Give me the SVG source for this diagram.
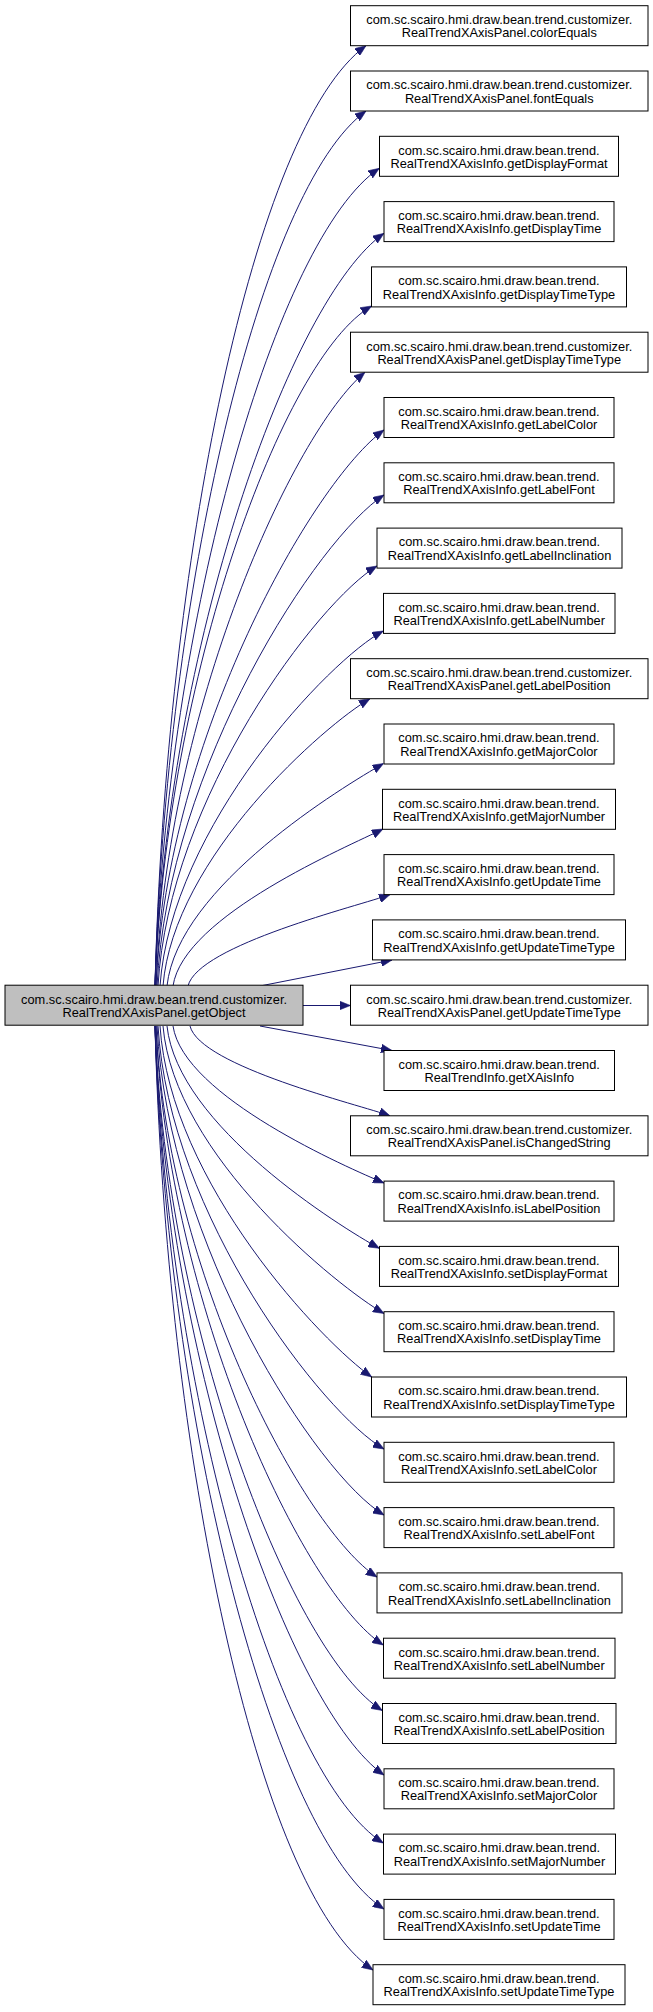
<svg xmlns="http://www.w3.org/2000/svg" width="653" height="2012" viewBox="0 0 653 2012">
<style>
.n rect{fill:#ffffff;stroke:#000000;stroke-width:1}
.src rect{fill:#bfbfbf;stroke:#000000;stroke-width:1}
text{font-family:"Liberation Sans",Arial,sans-serif;font-size:12.8px;fill:#000000;text-anchor:middle}
.e path{fill:none;stroke:#191970;stroke-width:1;marker-end:url(#arr)}
</style>
<defs>
<marker id="arr" markerUnits="userSpaceOnUse" viewBox="0 0 10 8" refX="10" refY="4" markerWidth="11" markerHeight="8.8" orient="auto">
<path d="M0,0 L10,4 L0,8 z" fill="#191970" stroke="#191970" stroke-width="0.5"/>
</marker>
</defs>
<rect width="653" height="2012" fill="#ffffff"/>
<g id="edges" class="e">
<path d="M155,986 C165.6,562.9 253,127.8 366,45.7"/>
<path d="M155,986 C165.6,592.3 260.4,187.7 366,111"/>
<path d="M155,986 C166.2,618 277.3,237.1 379.3,168.3"/>
<path d="M155,986 C166.5,647.3 290.6,298.8 384,233.3"/>
<path d="M155,986 C165.8,680 282.1,357.8 371.7,306"/>
<path d="M156,986 C166.5,709.8 293,432.6 365,372.2"/>
<path d="M156,986 C167.4,735.8 313.5,481.2 384,430"/>
<path d="M157,986 C168.4,765 318.2,537.7 384,495"/>
<path d="M158,986 C169,797 318.1,601.4 377,566"/>
<path d="M160,986 C171.2,826.3 329.6,659.5 383.3,631"/>
<path d="M163,986 C173.4,856.7 325.6,724.4 370,698.7"/>
<path d="M167,986 C177.8,886 344.5,786 383.5,763.5"/>
<path d="M173,986 C183.5,915.4 349,846.2 383,829"/>
<path d="M188,986 C198.1,944.9 360,905.6 390,894.6"/>
<path d="M260,986 L392,960"/>
<path d="M303,1005.5 L350.5,1005.5"/>
<path d="M260,1026 L392,1050.5"/>
<path d="M190,1026 C200,1066.4 360.1,1104.9 390,1115.8"/>
<path d="M173,1026 C183.6,1096.7 348.9,1168.1 384,1183"/>
<path d="M167,1026 C177.6,1126 340.3,1226.7 379.3,1248.3"/>
<path d="M163,1026 C174,1155.4 338.4,1287.2 384,1313.5"/>
<path d="M160,1026 C170.6,1184 323.1,1342.9 371.7,1377"/>
<path d="M158,1026 C169.3,1216.4 323.8,1414.3 384,1449"/>
<path d="M157,1026 C168.4,1246 317,1474.7 384,1515"/>
<path d="M156,1026 C167,1274 304.8,1530.1 377,1577"/>
<path d="M156,1026 C167.4,1304.6 303.1,1592.9 383.3,1645"/>
<path d="M155,1026 C166.4,1334 293.6,1655.1 382.3,1710.5"/>
<path d="M155,1026 C166.5,1363 291,1709.8 384,1775"/>
<path d="M155,1026 C166.4,1393.7 279,1777.8 383.3,1843"/>
<path d="M155,1026 C166.5,1423.4 273,1836.9 384,1909"/>
<path d="M155,1026 C165.9,1450.8 256.5,1891.5 373,1970"/>
</g>
<g id="src" class="src"><rect x="5" y="985.2" width="298" height="40"/><text x="154" y="1003.5">com.sc.scairo.hmi.draw.bean.trend.customizer.</text><text x="154" y="1016.8">RealTrendXAxisPanel.getObject</text></g>
<g id="n0" class="n"><rect x="350.5" y="5.7" width="297.5" height="40"/><text x="499.25" y="24">com.sc.scairo.hmi.draw.bean.trend.customizer.</text><text x="499.25" y="37.3">RealTrendXAxisPanel.colorEquals</text></g>
<g id="n1" class="n"><rect x="350.5" y="71" width="297.5" height="40"/><text x="499.25" y="89.3">com.sc.scairo.hmi.draw.bean.trend.customizer.</text><text x="499.25" y="102.6">RealTrendXAxisPanel.fontEquals</text></g>
<g id="n2" class="n"><rect x="379.5" y="136.3" width="239" height="40"/><text x="499" y="154.6">com.sc.scairo.hmi.draw.bean.trend.</text><text x="499" y="167.9">RealTrendXAxisInfo.getDisplayFormat</text></g>
<g id="n3" class="n"><rect x="384" y="201.6" width="230" height="40"/><text x="499" y="219.9">com.sc.scairo.hmi.draw.bean.trend.</text><text x="499" y="233.2">RealTrendXAxisInfo.getDisplayTime</text></g>
<g id="n4" class="n"><rect x="371.5" y="266.9" width="255" height="40"/><text x="499" y="285.2">com.sc.scairo.hmi.draw.bean.trend.</text><text x="499" y="298.5">RealTrendXAxisInfo.getDisplayTimeType</text></g>
<g id="n5" class="n"><rect x="350.5" y="332.2" width="297.5" height="40"/><text x="499.25" y="350.5">com.sc.scairo.hmi.draw.bean.trend.customizer.</text><text x="499.25" y="363.8">RealTrendXAxisPanel.getDisplayTimeType</text></g>
<g id="n6" class="n"><rect x="384" y="397.5" width="230" height="40"/><text x="499" y="415.8">com.sc.scairo.hmi.draw.bean.trend.</text><text x="499" y="429.1">RealTrendXAxisInfo.getLabelColor</text></g>
<g id="n7" class="n"><rect x="384" y="462.8" width="230" height="40"/><text x="499" y="481.1">com.sc.scairo.hmi.draw.bean.trend.</text><text x="499" y="494.4">RealTrendXAxisInfo.getLabelFont</text></g>
<g id="n8" class="n"><rect x="377" y="528.1" width="245" height="40"/><text x="499.5" y="546.4">com.sc.scairo.hmi.draw.bean.trend.</text><text x="499.5" y="559.7">RealTrendXAxisInfo.getLabelInclination</text></g>
<g id="n9" class="n"><rect x="383.5" y="593.4" width="231.5" height="40"/><text x="499.25" y="611.7">com.sc.scairo.hmi.draw.bean.trend.</text><text x="499.25" y="625">RealTrendXAxisInfo.getLabelNumber</text></g>
<g id="n10" class="n"><rect x="350.5" y="658.7" width="297.5" height="40"/><text x="499.25" y="677">com.sc.scairo.hmi.draw.bean.trend.customizer.</text><text x="499.25" y="690.3">RealTrendXAxisPanel.getLabelPosition</text></g>
<g id="n11" class="n"><rect x="384" y="724" width="230" height="40"/><text x="499" y="742.3">com.sc.scairo.hmi.draw.bean.trend.</text><text x="499" y="755.6">RealTrendXAxisInfo.getMajorColor</text></g>
<g id="n12" class="n"><rect x="382.5" y="789.3" width="233" height="40"/><text x="499" y="807.6">com.sc.scairo.hmi.draw.bean.trend.</text><text x="499" y="820.9">RealTrendXAxisInfo.getMajorNumber</text></g>
<g id="n13" class="n"><rect x="384" y="854.6" width="230" height="40"/><text x="499" y="872.9">com.sc.scairo.hmi.draw.bean.trend.</text><text x="499" y="886.2">RealTrendXAxisInfo.getUpdateTime</text></g>
<g id="n14" class="n"><rect x="372.5" y="919.9" width="253" height="40"/><text x="499" y="938.2">com.sc.scairo.hmi.draw.bean.trend.</text><text x="499" y="951.5">RealTrendXAxisInfo.getUpdateTimeType</text></g>
<g id="n15" class="n"><rect x="350.5" y="985.2" width="297.5" height="40"/><text x="499.25" y="1003.5">com.sc.scairo.hmi.draw.bean.trend.customizer.</text><text x="499.25" y="1016.8">RealTrendXAxisPanel.getUpdateTimeType</text></g>
<g id="n16" class="n"><rect x="384" y="1050.5" width="230.5" height="40"/><text x="499.25" y="1068.8">com.sc.scairo.hmi.draw.bean.trend.</text><text x="499.25" y="1082.1">RealTrendInfo.getXAisInfo</text></g>
<g id="n17" class="n"><rect x="350.5" y="1115.8" width="297.5" height="40"/><text x="499.25" y="1134.1">com.sc.scairo.hmi.draw.bean.trend.customizer.</text><text x="499.25" y="1147.4">RealTrendXAxisPanel.isChangedString</text></g>
<g id="n18" class="n"><rect x="384" y="1181.1" width="230" height="40"/><text x="499" y="1199.4">com.sc.scairo.hmi.draw.bean.trend.</text><text x="499" y="1212.7">RealTrendXAxisInfo.isLabelPosition</text></g>
<g id="n19" class="n"><rect x="379.5" y="1246.4" width="239" height="40"/><text x="499" y="1264.7">com.sc.scairo.hmi.draw.bean.trend.</text><text x="499" y="1278">RealTrendXAxisInfo.setDisplayFormat</text></g>
<g id="n20" class="n"><rect x="384" y="1311.7" width="230" height="40"/><text x="499" y="1330">com.sc.scairo.hmi.draw.bean.trend.</text><text x="499" y="1343.3">RealTrendXAxisInfo.setDisplayTime</text></g>
<g id="n21" class="n"><rect x="371.5" y="1377" width="255" height="40"/><text x="499" y="1395.3">com.sc.scairo.hmi.draw.bean.trend.</text><text x="499" y="1408.6">RealTrendXAxisInfo.setDisplayTimeType</text></g>
<g id="n22" class="n"><rect x="384" y="1442.3" width="230" height="40"/><text x="499" y="1460.6">com.sc.scairo.hmi.draw.bean.trend.</text><text x="499" y="1473.9">RealTrendXAxisInfo.setLabelColor</text></g>
<g id="n23" class="n"><rect x="384" y="1507.6" width="230" height="40"/><text x="499" y="1525.9">com.sc.scairo.hmi.draw.bean.trend.</text><text x="499" y="1539.2">RealTrendXAxisInfo.setLabelFont</text></g>
<g id="n24" class="n"><rect x="377" y="1572.9" width="245" height="40"/><text x="499.5" y="1591.2">com.sc.scairo.hmi.draw.bean.trend.</text><text x="499.5" y="1604.5">RealTrendXAxisInfo.setLabelInclination</text></g>
<g id="n25" class="n"><rect x="383.5" y="1638.2" width="231.5" height="40"/><text x="499.25" y="1656.5">com.sc.scairo.hmi.draw.bean.trend.</text><text x="499.25" y="1669.8">RealTrendXAxisInfo.setLabelNumber</text></g>
<g id="n26" class="n"><rect x="382.5" y="1703.5" width="233.5" height="40"/><text x="499.25" y="1721.8">com.sc.scairo.hmi.draw.bean.trend.</text><text x="499.25" y="1735.1">RealTrendXAxisInfo.setLabelPosition</text></g>
<g id="n27" class="n"><rect x="384" y="1768.8" width="230" height="40"/><text x="499" y="1787.1">com.sc.scairo.hmi.draw.bean.trend.</text><text x="499" y="1800.4">RealTrendXAxisInfo.setMajorColor</text></g>
<g id="n28" class="n"><rect x="383.5" y="1834.1" width="232" height="40"/><text x="499.5" y="1852.4">com.sc.scairo.hmi.draw.bean.trend.</text><text x="499.5" y="1865.7">RealTrendXAxisInfo.setMajorNumber</text></g>
<g id="n29" class="n"><rect x="384" y="1899.4" width="230" height="40"/><text x="499" y="1917.7">com.sc.scairo.hmi.draw.bean.trend.</text><text x="499" y="1931">RealTrendXAxisInfo.setUpdateTime</text></g>
<g id="n30" class="n"><rect x="373" y="1964.7" width="252" height="40"/><text x="499" y="1983">com.sc.scairo.hmi.draw.bean.trend.</text><text x="499" y="1996.3">RealTrendXAxisInfo.setUpdateTimeType</text></g>
</svg>
